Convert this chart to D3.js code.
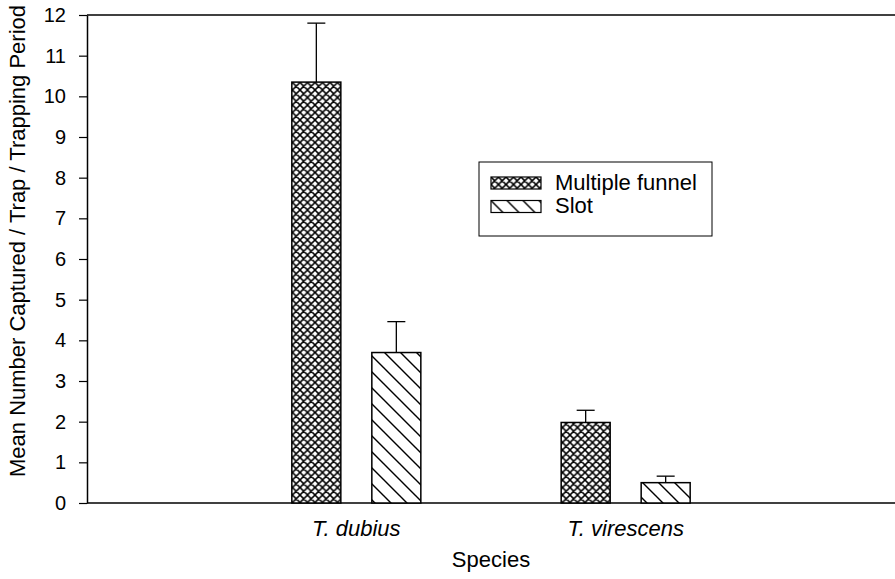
<!DOCTYPE html>
<html lang="en">
	<head>
		<meta charset="utf-8" />
		<title>Mean number captured by trap type</title>
		<script type="text/javascript" src="https://cdn.jsdelivr.net/npm/d3@7/dist/d3.min.js"></script>
		<style type="text/css">
			body { margin: 0; background: #fff; }
			svg { display: block; font-family: "Liberation Sans", Arial, sans-serif; }
		</style>
	</head>
	<body>
		<script type="text/javascript">
			//Data
			var species = ["T. dubius", "T. virescens"];
			var traps = ["Multiple funnel", "Slot"];
			var meanFunnel = [10.35, 1.98];
			var errFunnel = [1.45, 0.30];
			var meanSlot = [3.70, 0.50];
			var errSlot = [0.76, 0.16];
			var yTicks = [0, 1, 2, 3, 4, 5, 6, 7, 8, 9, 10, 11, 12];

			var dataset = [];
			for (var i = 0; i < species.length; i++) {
				dataset.push({ sp: species[i], trap: traps[0], mean: meanFunnel[i], err: errFunnel[i] });
				dataset.push({ sp: species[i], trap: traps[1], mean: meanSlot[i], err: errSlot[i] });
			}

			var w = 895;
			var h = 579;
			var plotLeft = 87, plotRight = 895, plotTop = 15, plotBottom = 503;

			var xScale = d3.scalePoint()
				.domain(species)
				.range([plotLeft, plotRight])
				.padding(1);
			var innerScale = d3.scaleBand()
				.domain(traps)
				.range([-64.5, 64.5])
				.paddingInner(0.3875);
			var yScale = d3.scaleLinear()
				.domain([0, 12])
				.range([plotBottom, plotTop]);

			var svg = d3.select("body")
				.append("svg")
				.attr("width", w)
				.attr("height", h);

			//Fill patterns
			var defs = svg.append("defs");
			var cross = defs.append("pattern")
				.attr("id", "cross")
				.attr("patternUnits", "userSpaceOnUse")
				.attr("width", 7.5)
				.attr("height", 7.5);
			cross.append("rect").attr("width", 7.5).attr("height", 7.5).attr("fill", "#fff");
			cross.append("path")
				.attr("d", "M0,0L7.5,7.5M7.5,0L0,7.5M-1,6.5L1,8.5M6.5,-1L8.5,1M-1,1L1,-1M6.5,8.5L8.5,6.5")
				.attr("stroke", "#000")
				.attr("stroke-width", 1.5);
			var slash = defs.append("pattern")
				.attr("id", "slash")
				.attr("patternUnits", "userSpaceOnUse")
				.attr("width", 16)
				.attr("height", 16);
			slash.append("rect").attr("width", 16).attr("height", 16).attr("fill", "#fff");
			slash.append("path")
				.attr("d", "M0,0L16,16M-2,14L2,18M14,-2L18,2")
				.attr("stroke", "#000")
				.attr("stroke-width", 1.4);

			function fillFor(trap) {
				return trap === traps[0] ? "url(#cross)" : "url(#slash)";
			}

			//Frame lines
			svg.append("line")
				.attr("x1", plotLeft).attr("x2", plotRight)
				.attr("y1", plotTop).attr("y2", plotTop)
				.attr("stroke", "#000").attr("stroke-width", 1.5);
			svg.append("line")
				.attr("x1", plotLeft).attr("x2", plotRight)
				.attr("y1", plotBottom).attr("y2", plotBottom)
				.attr("stroke", "#000").attr("stroke-width", 1.5);

			//Error bars (upper only)
			function barMid(d) {
				return xScale(d.sp) + innerScale(d.trap) + innerScale.bandwidth() / 2;
			}
			var errs = svg.append("g").attr("id", "errors");
			errs.selectAll("line.stem")
				.data(dataset)
				.enter()
				.append("line")
				.attr("class", "stem")
				.attr("x1", barMid)
				.attr("x2", barMid)
				.attr("y1", function(d) { return yScale(d.mean); })
				.attr("y2", function(d) { return yScale(d.mean + d.err); })
				.attr("stroke", "#000").attr("stroke-width", 1.3);
			errs.selectAll("line.cap")
				.data(dataset)
				.enter()
				.append("line")
				.attr("class", "cap")
				.attr("x1", function(d) { return barMid(d) - 9; })
				.attr("x2", function(d) { return barMid(d) + 9; })
				.attr("y1", function(d) { return yScale(d.mean + d.err); })
				.attr("y2", function(d) { return yScale(d.mean + d.err); })
				.attr("stroke", "#000").attr("stroke-width", 1.3);

			//Bars
			svg.append("g")
				.attr("id", "bars")
				.selectAll("rect")
				.data(dataset)
				.enter()
				.append("rect")
				.attr("x", function(d) { return xScale(d.sp) + innerScale(d.trap); })
				.attr("y", function(d) { return yScale(d.mean); })
				.attr("width", innerScale.bandwidth())
				.attr("height", function(d) { return yScale(0) - yScale(d.mean); })
				.attr("fill", function(d) { return fillFor(d.trap); })
				.attr("stroke", "#000")
				.attr("stroke-width", 1.5);

			//Y axis
			var yAxis = d3.axisLeft()
				.scale(yScale)
				.tickValues(yTicks)
				.tickSize(8)
				.tickPadding(13)
				.tickSizeOuter(0);
			var yG = svg.append("g")
				.attr("class", "y axis")
				.attr("transform", "translate(" + plotLeft + ",0)")
				.call(yAxis);
			yG.select(".domain").attr("stroke-width", 1.5);
			yG.selectAll(".tick line").attr("stroke-width", 1.2);
			yG.selectAll(".tick text")
				.attr("font-size", 20)
				.attr("font-family", "Liberation Sans, Arial, sans-serif")
				.attr("fill", "#000");

			//Category labels
			svg.append("g")
				.selectAll("text")
				.data(species)
				.enter()
				.append("text")
				.attr("x", function(d) { return xScale(d); })
				.attr("y", 536)
				.attr("text-anchor", "middle")
				.attr("font-size", 22)
				.attr("font-style", "italic")
				.text(function(d) { return d; });

			//Axis titles
			svg.append("text")
				.attr("x", (plotLeft + plotRight) / 2)
				.attr("y", 567)
				.attr("text-anchor", "middle")
				.attr("font-size", 22)
				.text("Species");
			svg.append("text")
				.attr("transform", "translate(25,241) rotate(-90)")
				.attr("text-anchor", "middle")
				.attr("font-size", 22)
				.text("Mean Number Captured / Trap / Trapping Period");

			//Legend
			var legend = svg.append("g").attr("id", "legend");
			legend.append("rect")
				.attr("x", 479).attr("y", 162)
				.attr("width", 233).attr("height", 74)
				.attr("fill", "#fff")
				.attr("stroke", "#000").attr("stroke-width", 1);
			var items = legend.selectAll("g.item")
				.data(traps)
				.enter()
				.append("g")
				.attr("class", "item")
				.attr("transform", function(d, i) { return "translate(491," + (177 + i * 23.5) + ")"; });
			items.append("rect")
				.attr("width", 50)
				.attr("height", 12)
				.attr("fill", function(d) { return fillFor(d); })
				.attr("stroke", "#000")
				.attr("stroke-width", 1.2);
			items.append("text")
				.attr("x", 64)
				.attr("y", 12.5)
				.attr("font-size", 22)
				.text(function(d) { return d; });
		</script>
	</body>
</html>
